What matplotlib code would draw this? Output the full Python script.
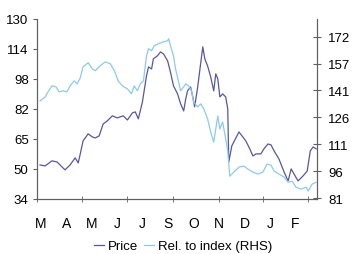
import matplotlib.pyplot as plt
import numpy as np

plt.rcParams['font.family'] = ['Liberation Sans', 'DejaVu Sans']

# Price (LHS) - x in months from start of March
price_x = [0.12, 0.32, 0.59, 0.79, 1.10, 1.30, 1.50, 1.62, 1.70, 1.81, 2.01, 2.17, 2.29, 2.44,
           2.60, 2.76, 2.96, 3.15, 3.39, 3.55, 3.75, 3.86, 3.98, 4.14, 4.30, 4.38, 4.50, 4.57,
           4.73, 4.85, 4.97, 5.13, 5.24, 5.36, 5.52, 5.64, 5.76, 5.84, 5.91, 6.03, 6.11, 6.19,
           6.31, 6.39, 6.51, 6.59, 6.70, 6.82, 6.94, 7.02, 7.10, 7.18, 7.29, 7.41, 7.49, 7.53,
           7.65, 7.73, 7.93, 8.08, 8.20, 8.32, 8.48, 8.60, 8.79, 8.91, 9.07, 9.19, 9.31, 9.50,
           9.70, 9.86, 9.98, 10.09, 10.25, 10.45, 10.61, 10.73, 10.84, 10.96]
price = [52.1, 51.6, 54.3, 53.7, 49.5, 52.1, 55.9, 53.2, 58.0, 64.9, 68.7, 67.1, 66.5, 67.6,
         74.0, 75.6, 78.3, 77.2, 78.3, 76.1, 79.9, 80.4, 76.7, 85.7, 99.6, 104.4, 103.3, 108.7,
         110.3, 112.4, 111.3, 107.6, 101.7, 94.3, 90.0, 84.7, 80.9, 87.3, 91.6, 93.7, 88.9, 83.1,
         93.7, 102.3, 115.1, 108.7, 104.9, 99.1, 91.6, 100.7, 98.0, 88.4, 90.0, 88.4, 82.0, 53.7,
         62.3, 64.4, 69.7, 67.1, 64.9, 61.7, 56.9, 58.0, 58.0, 60.7, 63.3, 62.8, 59.6, 55.3,
         48.4, 43.6, 50.0, 47.3, 43.6, 46.3, 48.9, 59.6, 61.7, 60.7]

# Relative to index (RHS)
rel_x = [0.12, 0.32, 0.43, 0.59, 0.75, 0.87, 1.03, 1.18, 1.30, 1.46, 1.58, 1.70, 1.81, 2.01,
         2.17, 2.29, 2.48, 2.68, 2.88, 3.04, 3.19, 3.35, 3.55, 3.71, 3.82, 3.94, 4.06, 4.18,
         4.30, 4.38, 4.50, 4.61, 4.77, 4.97, 5.13, 5.17, 5.24, 5.36, 5.44, 5.56, 5.64, 5.76,
         5.84, 5.95, 6.07, 6.15, 6.31, 6.43, 6.55, 6.70, 6.82, 6.94, 7.02, 7.10, 7.18, 7.29,
         7.41, 7.49, 7.57, 7.73, 7.93, 8.12, 8.28, 8.48, 8.68, 8.87, 9.03, 9.19, 9.31, 9.50,
         9.70, 9.86, 10.02, 10.17, 10.37, 10.57, 10.65, 10.80, 10.96]
rel = [135.8, 138.0, 140.8, 144.3, 143.7, 140.9, 141.5, 140.9, 144.3, 147.1, 145.4, 148.8, 155.0, 157.3,
       153.9, 152.8, 155.6, 157.8, 156.7, 152.8, 147.1, 144.3, 142.6, 139.8, 144.3, 141.5, 145.4, 147.1,
       161.2, 165.2, 164.1, 166.9, 168.0, 169.1, 169.7, 170.8, 166.9, 161.2, 153.9, 146.5, 141.5, 143.7,
       145.4, 144.3, 141.5, 135.2, 132.4, 134.1, 131.3, 125.6, 118.3, 112.6, 120.0, 127.3, 120.0, 123.9,
       114.3, 107.6, 93.4, 95.7, 98.5, 99.1, 97.4, 95.7, 94.6, 95.7, 100.2, 99.6, 96.3, 94.6,
       92.9, 90.0, 90.6, 87.2, 86.1, 87.2, 85.0, 88.9, 90.0]

months = ['M', 'A', 'M', 'J', 'J', 'S', 'O', 'N', 'D', 'J', 'F']
left_ticks = [34, 50, 66, 82, 98, 114, 130]
left_labels = ['34', '50', '65', '82', '98', '114', '130']
right_ticks = [81, 96.17, 111.33, 126.5, 141.67, 156.83, 172]
right_labels = ['81', '96', '111', '126', '141', '157', '172']

fig = plt.figure(figsize=(3.52, 2.55), dpi=100)
ax = fig.add_axes([0.105, 0.216, 0.796, 0.706])
ax2 = ax.twinx()

spine_col = '#606060'
l1, = ax.plot(price_x, price, color='#5656a8', lw=0.9, label='Price')
l2, = ax2.plot(rel_x, rel, color='#8ccaee', lw=0.9, label='Rel. to index (RHS)')

ax.set_xlim(0, 11.0)
ax.set_ylim(34, 130)
ax2.set_ylim(80.6, 182)

ax.set_yticks(left_ticks)
ax.set_yticklabels(left_labels)
ax2.set_yticks(right_ticks)
ax2.set_yticklabels(right_labels)

ax.set_xticks(np.arange(11) + 0.15)
ax.set_xticklabels(months)
ax.set_xticks([0, 1.77, 3.55, 5.36, 7.14, 8.87, 10.65], minor=True)
ax.tick_params(axis='x', which='major', length=0, pad=12, labelsize=10)
ax.tick_params(axis='x', which='minor', length=5, direction='inout', color=spine_col)
ax.tick_params(axis='y', length=3, pad=3, labelsize=9.5, color=spine_col)
ax2.tick_params(axis='y', length=6, direction='inout', pad=5, labelsize=9.5, color=spine_col)

for a in (ax, ax2):
    a.spines['top'].set_visible(False)
    for s in ('left', 'right', 'bottom'):
        a.spines[s].set_color(spine_col)
        a.spines[s].set_linewidth(0.8)

fig.legend(handles=[l1, l2], loc='center', bbox_to_anchor=(0.52, 0.03), ncol=2,
           frameon=False, fontsize=9.5, handlelength=0.8, handletextpad=0.3,
           columnspacing=0.4)

plt.savefig('out.png', dpi=100)
